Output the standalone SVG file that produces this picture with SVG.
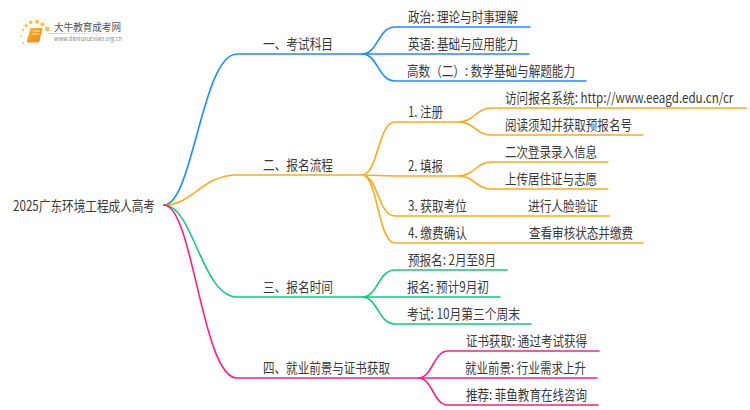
<svg xmlns="http://www.w3.org/2000/svg" width="750" height="410" viewBox="0 0 750 410">
<style>
text{font-family:"Noto Sans CJK SC","Noto Sans",sans-serif;font-size:14px;fill:#3a3a3a}
.c{fill:none;stroke-width:1.6;stroke-linecap:round}
.b{stroke:#1a8fff}.o{stroke:#fbab1c}.g{stroke:#14c87c}.p{stroke:#ff1e82}
.t{fill:#555;font-size:10px}.u{fill:#888;font-size:6px}
.d{fill:#fcc24a}
</style>
<defs>
<linearGradient id="bk" x1="0" y1="0" x2="1" y2="1"><stop offset="0" stop-color="#fcb62e"/><stop offset="1" stop-color="#ee8410"/></linearGradient>
<linearGradient id="ln" x1="0" y1="0" x2="1" y2="0"><stop offset="0" stop-color="#ccc"/><stop offset="1" stop-color="#ccc" stop-opacity="0"/></linearGradient>
</defs>
<g id="logo">
<circle class="d" cx="23" cy="30" r="1.200"/><circle class="d" cx="21" cy="36.500" r="1"/><circle class="d" cx="23" cy="43" r="1"/><circle class="d" cx="26" cy="25.700" r="1.700"/><circle class="d" cx="30.700" cy="22.300" r="1.900"/><circle class="d" cx="37" cy="21.700" r="2.100"/><circle class="d" cx="42.300" cy="24.300" r="2.100"/><circle class="d" cx="47.300" cy="29" r="2.400"/>
<path d="M30.500 28H42.500L39.500 41Q39 42.500 37.500 42.500H28Q26.500 42.500 27 40.500Z" fill="url(#bk)"/>
<path d="M33 31H40M32.500 34H39" stroke="#fff" stroke-width=".8" fill="none"/>
<rect x="48" y="33" width="84" height="1" fill="url(#ln)"/>
<text class="t" x="54" y="31" textLength="67" lengthAdjust="spacingAndGlyphs">大牛教育成考网</text>
<text class="u" x="54" y="41" textLength="68" lengthAdjust="spacingAndGlyphs">www.daniuxuexiao.org.cn</text>
</g>
<g id="connectors">
<path class="c b" d="M164 205C193 205 202 54 237 54H362"/>
<path class="c b" d="M362 54C378 54 378 27 395 27H530M362 54H529M362 54C378 54 378 81 395 81H586"/>
<path class="c o" d="M164 205C193 205 202 175 237 175H362"/>
<path class="c o" d="M362 175C378 175 378 122 395 122H458M362 175L395 176H458M362 175C378 175 378 216 395 216H609M362 175C378 175 378 243 395 243H643"/>
<path class="c o" d="M458 122C475 122 475 108 492 108H746M458 122C475 122 475 135 492 135H643M458 176C475 176 475 162 492 162H608M458 176C475 176 475 189 492 189H608"/>
<path class="c g" d="M164 205C193 205 202 297 237 297H362"/>
<path class="c g" d="M362 297C378 297 378 270 395 270H507M362 297H500M362 297C378 297 378 324 395 324H531"/>
<path class="c p" d="M164 205C193 205 202 378 237 378H418"/>
<path class="c p" d="M418 378C433 378 433 351 448 351H599M418 378H597M418 378C433 378 433 405 448 405H598"/>
</g>
<g id="root"><text x="13" y="211" textLength="142" lengthAdjust="spacingAndGlyphs">2025广东环境工程成人高考</text></g>
<g id="n1"><text x="263" y="49" textLength="70" lengthAdjust="spacingAndGlyphs">一、考试科目</text></g>
<g id="n1-1"><text x="408" y="22" textLength="110" lengthAdjust="spacingAndGlyphs">政治: 理论与时事理解</text></g>
<g id="n1-2"><text x="408" y="49" textLength="110" lengthAdjust="spacingAndGlyphs">英语: 基础与应用能力</text></g>
<g id="n1-3"><text x="407" y="76" textLength="168" lengthAdjust="spacingAndGlyphs">高数（二）: 数学基础与解题能力</text></g>
<g id="n2"><text x="263" y="170" textLength="70" lengthAdjust="spacingAndGlyphs">二、报名流程</text></g>
<g id="n2-1"><text x="408" y="117" textLength="35" lengthAdjust="spacingAndGlyphs">1. 注册</text></g>
<g id="n2-1-1"><text transform="translate(505 103) scale(.83 1)">访问报名系统: http://www.eeagd.edu.cn/cr</text></g>
<g id="n2-1-2"><text x="505" y="130" textLength="127" lengthAdjust="spacingAndGlyphs">阅读须知并获取预报名号</text></g>
<g id="n2-2"><text x="408" y="171" textLength="35" lengthAdjust="spacingAndGlyphs">2. 填报</text></g>
<g id="n2-2-1"><text x="505" y="157" textLength="92" lengthAdjust="spacingAndGlyphs">二次登录录入信息</text></g>
<g id="n2-2-2"><text x="505" y="184" textLength="92" lengthAdjust="spacingAndGlyphs">上传居住证与志愿</text></g>
<g id="n2-3"><text x="408" y="211" textLength="59" lengthAdjust="spacingAndGlyphs">3. 获取考位</text></g>
<g id="n2-3-1"><text x="528" y="211" textLength="70" lengthAdjust="spacingAndGlyphs">进行人脸验证</text></g>
<g id="n2-4"><text x="408" y="238" textLength="59" lengthAdjust="spacingAndGlyphs">4. 缴费确认</text></g>
<g id="n2-4-1"><text x="529" y="238" textLength="104" lengthAdjust="spacingAndGlyphs">查看审核状态并缴费</text></g>
<g id="n3"><text x="263" y="292" textLength="70" lengthAdjust="spacingAndGlyphs">三、报名时间</text></g>
<g id="n3-1"><text x="408" y="265" textLength="88" lengthAdjust="spacingAndGlyphs">预报名: 2月至8月</text></g>
<g id="n3-2"><text x="407" y="292" textLength="82" lengthAdjust="spacingAndGlyphs">报名: 预计9月初</text></g>
<g id="n3-3"><text x="407" y="319" textLength="113" lengthAdjust="spacingAndGlyphs">考试: 10月第三个周末</text></g>
<g id="n4"><text x="263" y="373" textLength="127" lengthAdjust="spacingAndGlyphs">四、就业前景与证书获取</text></g>
<g id="n4-1"><text x="466" y="346" textLength="121" lengthAdjust="spacingAndGlyphs">证书获取: 通过考试获得</text></g>
<g id="n4-2"><text x="465" y="373" textLength="121" lengthAdjust="spacingAndGlyphs">就业前景: 行业需求上升</text></g>
<g id="n4-3"><text x="466" y="400" textLength="121" lengthAdjust="spacingAndGlyphs">推荐: 菲鱼教育在线咨询</text></g>
</svg>
